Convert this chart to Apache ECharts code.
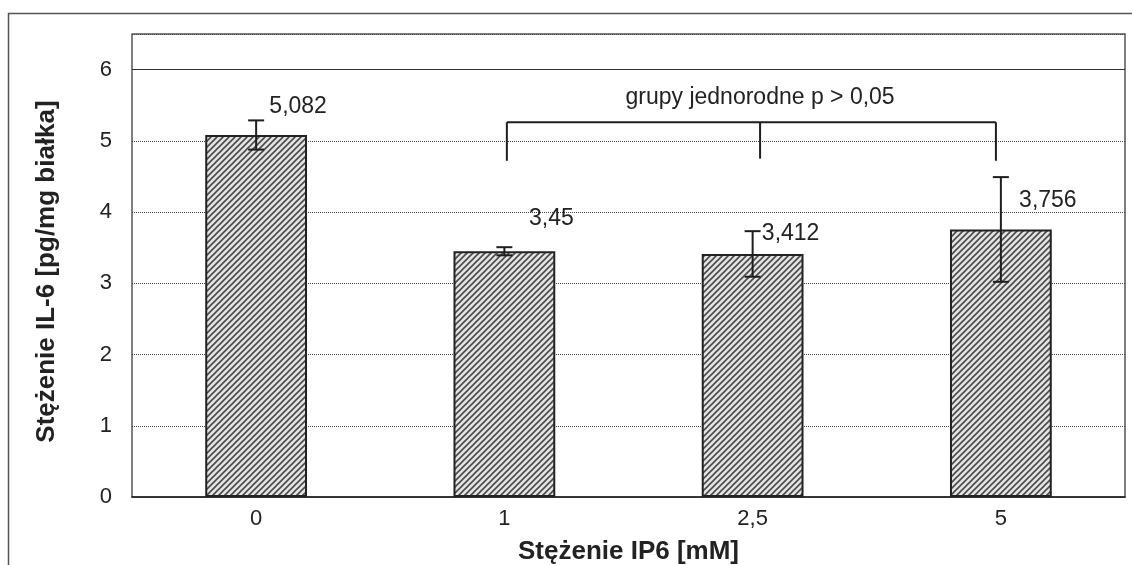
<!DOCTYPE html>
<html>
<head>
<meta charset="utf-8">
<script src="https://cdn.jsdelivr.net/npm/echarts@6/dist/echarts.min.js"></script>
<style>html,body{margin:0;padding:0;background:#fff}#c{width:1132px;height:565px}</style>
</head>
<body>
<div id="c"></div>
<script>
const categories = ['0', '1', '2,5', '5'];
const values = [5.082, 3.45, 3.412, 3.756];
const errors = [0.205, 0.057, 0.32, 0.735];
const valueLabels = ['5,082', '3,45', '3,412', '3,756'];
const yTicks = [0, 1, 2, 3, 4, 5, 6];
const bracketX = [1.51, 2.53, 3.48];
const bracketTop = 5.26;
const bracketEnds = [4.72, 4.75, 4.72];
const bracketText = 'grupy jednorodne p > 0,05';
const yTitle = 'Stężenie IL-6 [pg/mg białka]';
const xTitle = 'Stężenie IP6 [mM]';

const labelOffsets = [[42, -12], [47, -16], [38, -4], [47, -12]];
const FONT = '"Liberation Sans", Arial, sans-serif';

const tile = document.createElement('canvas');
tile.width = tile.height = 6;
const tc = tile.getContext('2d');
tc.fillStyle = '#e4e4e4';
tc.fillRect(0, 0, 6, 6);
tc.strokeStyle = '#4a4a4a';
tc.lineWidth = 1.6;
tc.beginPath();
tc.moveTo(0, 6); tc.lineTo(6, 0);
tc.moveTo(-1, 1); tc.lineTo(1, -1);
tc.moveTo(5, 7); tc.lineTo(7, 5);
tc.stroke();

const chart = echarts.init(document.getElementById('c'));
chart.setOption({
  animation: false,
  graphic: [{
    type: 'rect', silent: true, z: -10,
    shape: { x: 8.5, y: 13.5, width: 1300, height: 800 },
    style: { fill: 'none', stroke: '#555', lineWidth: 1.5 }
  }],
  grid: {
    left: 132, right: 7, top: 34, bottom: 68, show: true, borderColor: '#555', borderWidth: 1.5,
    containLabel: false, outerBoundsMode: 'none'
  },
  xAxis: [{
    type: 'category', data: categories,
    axisLine: { lineStyle: { color: '#222', width: 1.5 } },
    axisTick: { show: false },
    axisLabel: { color: '#222', fontSize: 22, fontFamily: FONT, margin: 11 },
    name: xTitle, nameLocation: 'middle', nameGap: 42,
    nameTextStyle: { color: '#222', fontSize: 26, fontWeight: 'bold', fontFamily: FONT }
  }, {
    type: 'value', min: 0, max: 4, show: false
  }],
  yAxis: {
    type: 'value', min: 0, max: 6.5, interval: 1,
    axisLine: { show: false }, axisTick: { show: false },
    axisLabel: {
      color: '#222', fontSize: 22, fontFamily: FONT, margin: 20,
      formatter: v => (yTicks.indexOf(v) >= 0 ? String(v) : '')
    },
    splitLine: { lineStyle: { type: 'dotted', color: '#444', width: 1 } },
    name: yTitle, nameLocation: 'middle', nameGap: 72,
    nameTextStyle: { color: '#222', fontSize: 26, fontWeight: 'bold', fontFamily: FONT, padding: [0, 12, 0, 0] }
  },
  series: [{
    type: 'bar', barWidth: '41%',
    data: values.map((v, i) => ({
      value: v,
      label: {
        show: true, position: 'top', offset: labelOffsets[i],
        formatter: valueLabels[i], color: '#222', fontSize: 23, fontFamily: FONT
      }
    })),
    itemStyle: { color: { image: tile, repeat: 'repeat' }, borderColor: '#222', borderWidth: 2 },
    markLine: {
      silent: true, symbol: 'none', label: { show: false },
      lineStyle: { type: 'solid', color: '#333', width: 1.2 },
      data: [{ yAxis: 6 }]
    },
    z: 2
  }, {
    type: 'custom', z: 5,
    data: values.map((v, i) => [i, v - errors[i], v + errors[i]]),
    renderItem: function (params, api) {
      const lo = api.coord([api.value(0), api.value(1)]);
      const hi = api.coord([api.value(0), api.value(2)]);
      const w = 8;
      const st = { stroke: '#1e1e1e', lineWidth: 2 };
      return {
        type: 'group', children: [
          { type: 'line', shape: { x1: lo[0], y1: lo[1], x2: hi[0], y2: hi[1] }, style: st },
          { type: 'line', shape: { x1: hi[0] - w, y1: hi[1], x2: hi[0] + w, y2: hi[1] }, style: st },
          { type: 'line', shape: { x1: lo[0] - w, y1: lo[1], x2: lo[0] + w, y2: lo[1] }, style: st }
        ]
      };
    }
  }, {
    type: 'custom', xAxisIndex: 1, z: 5,
    data: [[0]],
    renderItem: function (params, api) {
      const st = { stroke: '#1e1e1e', lineWidth: 2 };
      const top = bracketX.map(x => api.coord([x, bracketTop]));
      const ends = bracketX.map((x, i) => api.coord([x, bracketEnds[i]]));
      const children = [
        { type: 'line', shape: { x1: top[0][0], y1: top[0][1], x2: top[2][0], y2: top[2][1] }, style: st }
      ];
      for (let i = 0; i < 3; i++) {
        children.push({ type: 'line', shape: { x1: top[i][0], y1: top[i][1], x2: ends[i][0], y2: ends[i][1] }, style: st });
      }
      children.push({
        type: 'text',
        style: {
          x: top[1][0], y: top[1][1] - 25, text: bracketText,
          fill: '#222', font: '23px ' + FONT, textAlign: 'center', textVerticalAlign: 'middle'
        }
      });
      return { type: 'group', children: children };
    }
  }]
});
</script>
</body>
</html>
